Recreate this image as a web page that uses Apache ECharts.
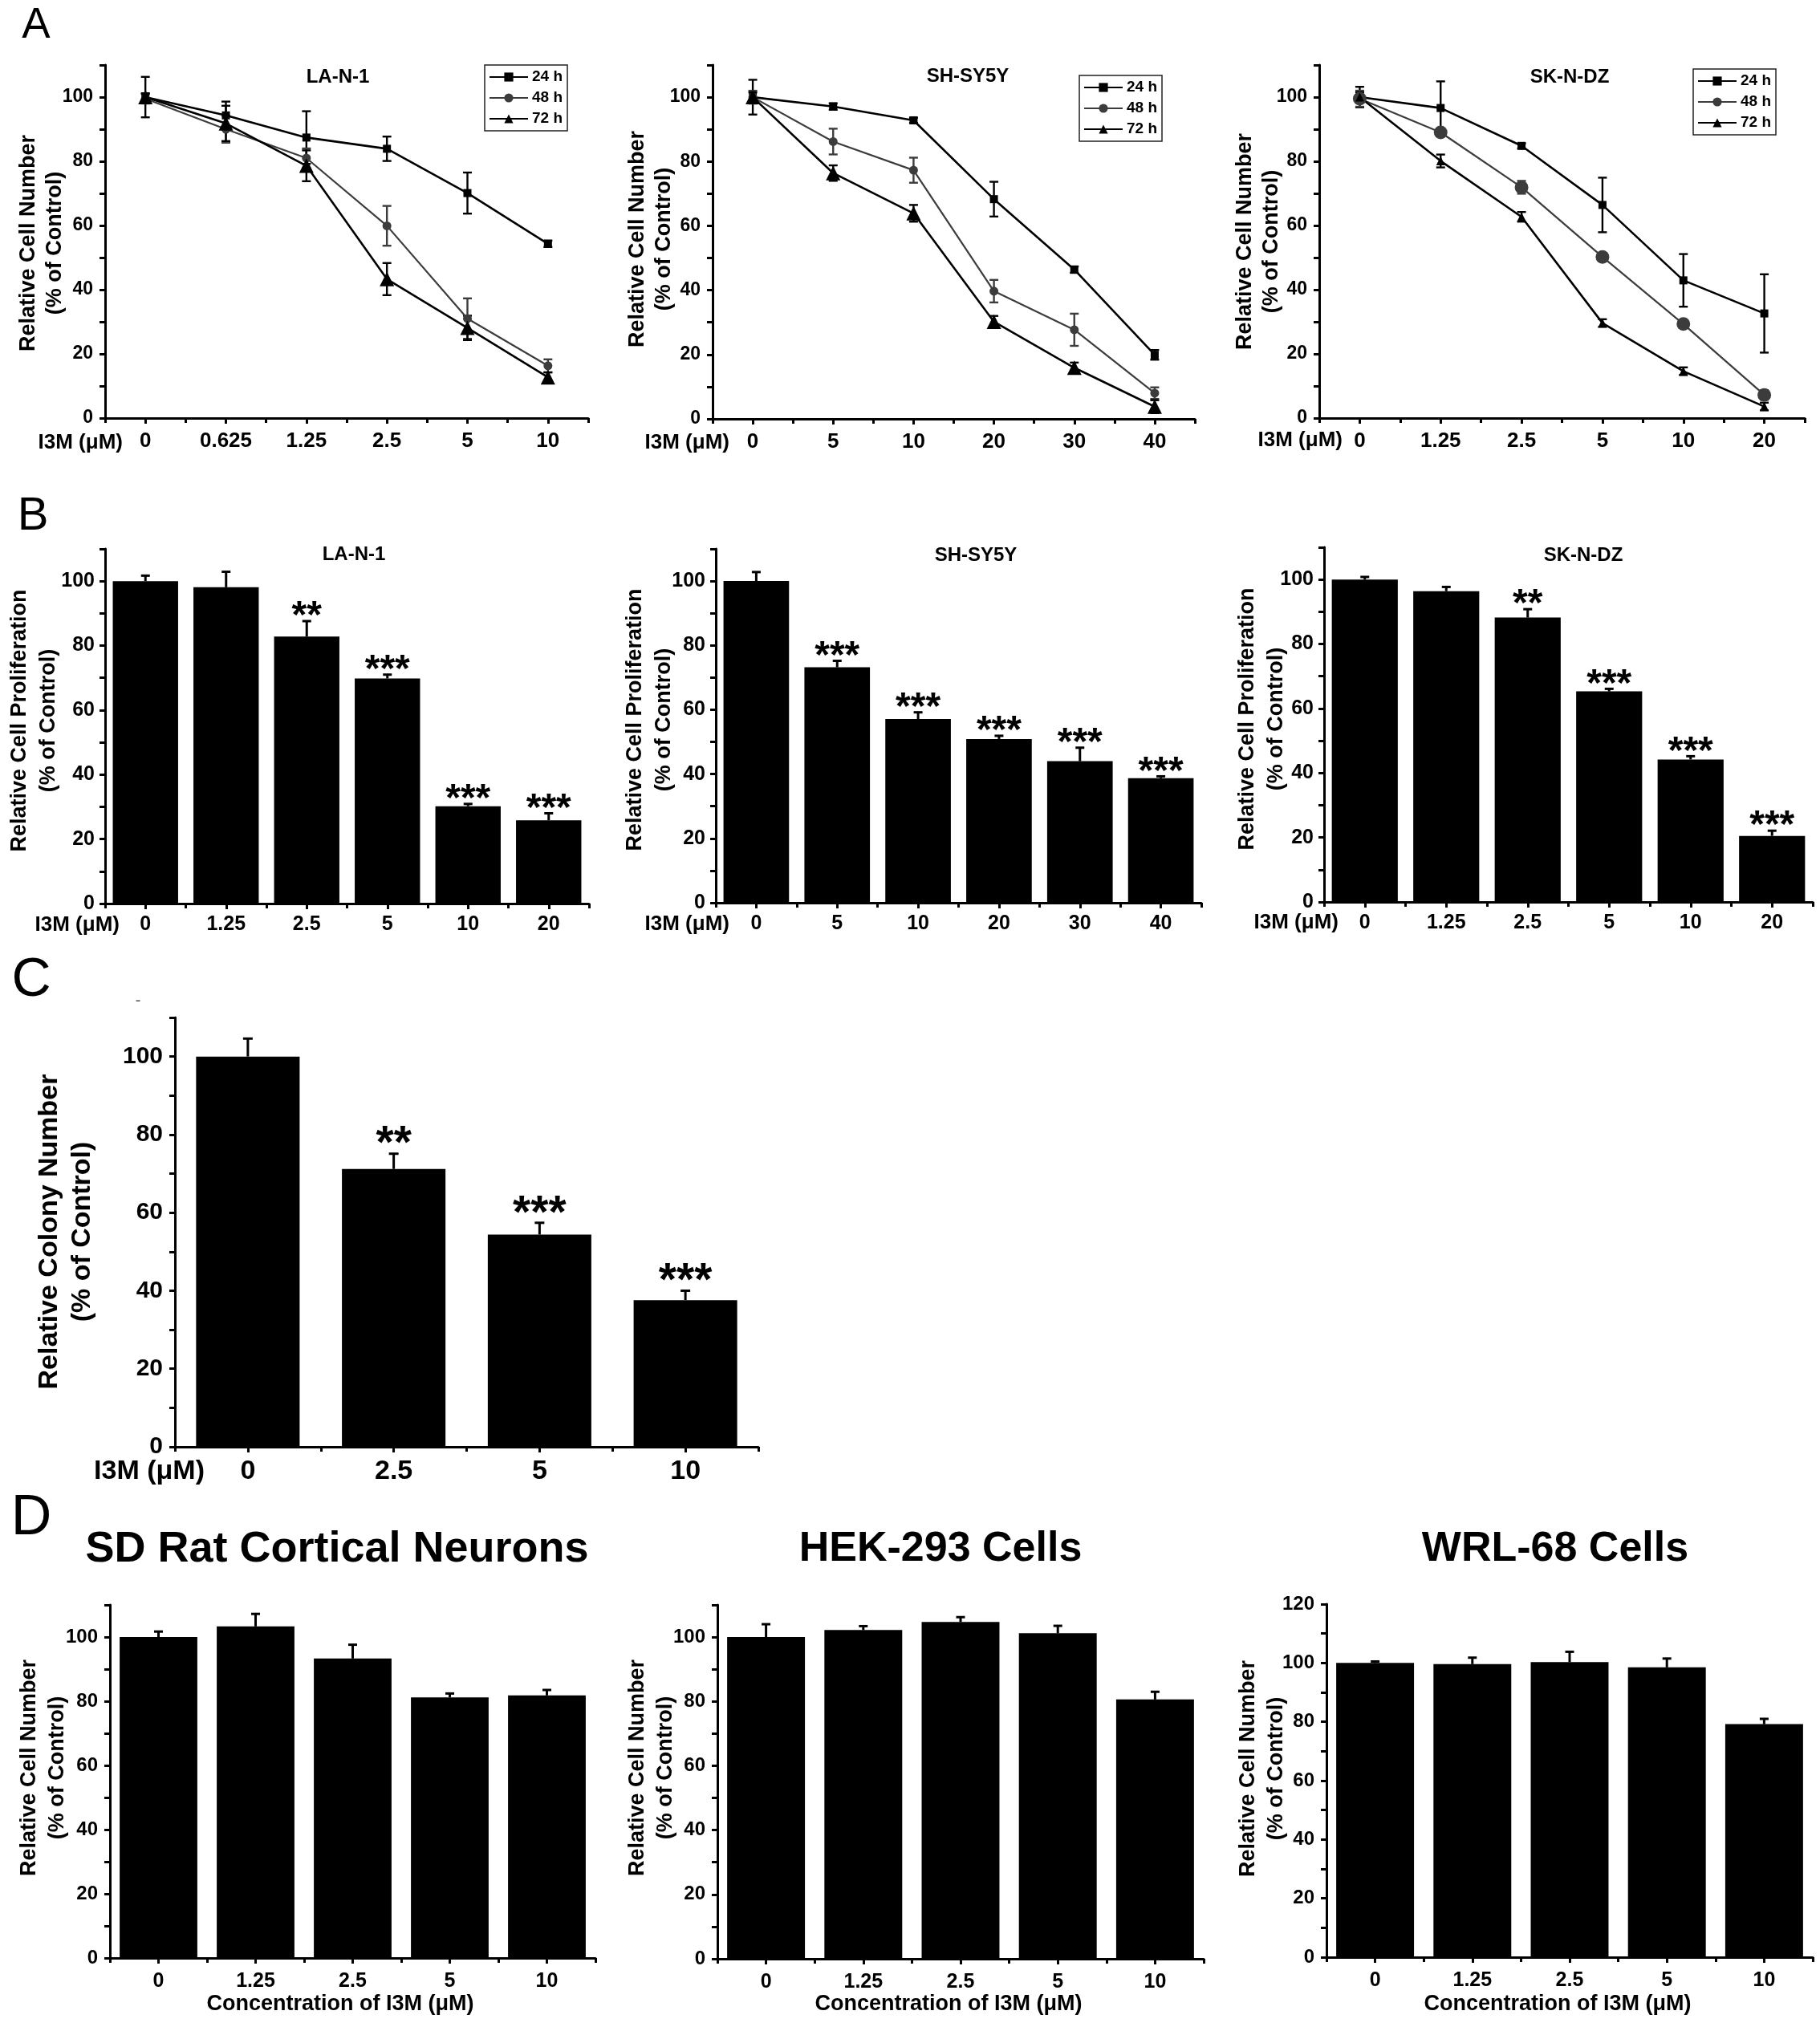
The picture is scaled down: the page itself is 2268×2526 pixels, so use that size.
<!DOCTYPE html>
<html><head><meta charset="utf-8">
<script src="https://cdn.jsdelivr.net/npm/echarts@6/dist/echarts.min.js"></script>
<style>html,body{margin:0;padding:0;background:#fff}#c{width:2268px;height:2526px}</style>
</head><body><div id="c"></div>
<script>
const FONT = '"Liberation Sans", Arial, Helvetica, sans-serif';

// ---------- Panel A : time course ----------
const timeNames = ['24 h', '48 h', '72 h'];
const catsA1 = ['0', '0.625', '1.25', '2.5', '5', '10'];
const catsA2 = ['0', '5', '10', '20', '30', '40'];
const catsA3 = ['0', '1.25', '2.5', '5', '10', '20'];

const a1_24 = [100, 94.3, 87.4, 83.9, 70.1, 54.3];
const a1_24err = [6.3, 4.3, 8.2, 3.8, 6.4, 1.0];
const a1_48 = [99.5, 90.0, 81.0, 59.9, 31.0, 16.3];
const a1_48err = [1.5, 4.2, 3.0, 6.2, 6.3, 2.0];
const a1_72 = [100, 91.8, 78.6, 43.3, 28.1, 12.7];
const a1_72err = [1.2, 5.5, 4.8, 5.0, 3.8, 1.5];

const a2_24 = [100, 97.1, 92.8, 68.3, 46.4, 19.9];
const a2_24err = [5.4, 1.0, 0.8, 5.4, 1.0, 1.5];
const a2_48 = [100, 86.2, 77.3, 39.7, 27.7, 8.0];
const a2_48err = [2.0, 4.0, 3.9, 3.5, 5.0, 1.8];
const a2_72 = [100, 76.4, 63.9, 30.2, 15.9, 3.8];
const a2_72err = [1.5, 2.4, 2.6, 1.8, 1.6, 2.0];

const a3_24 = [100, 96.6, 84.8, 66.4, 42.9, 32.6];
const a3_24err = [3.2, 8.3, 0.8, 8.5, 8.2, 12.2];
const a3_48 = [99.5, 89.0, 71.9, 50.2, 29.3, 7.2];
const a3_48err = [2.5, 1.2, 2.0, 1.2, 1.0, 1.5];
const a3_72 = [100, 80.1, 62.7, 29.6, 14.6, 3.6];
const a3_72err = [1.5, 2.0, 1.5, 1.2, 1.2, 1.2];

// ---------- Panel B : proliferation ----------
const catsB1 = ['0', '1.25', '2.5', '5', '10', '20'];
const b1Vals = [100, 98.1, 82.8, 69.8, 30.2, 25.8];
const b1Err = [1.7, 4.8, 4.8, 1.2, 0.7, 2.2];
const b1Stars = ['', '', '**', '***', '***', '***'];

const catsB2 = ['0', '5', '10', '20', '30', '40'];
const b2Vals = [100, 73.2, 57.1, 50.9, 44.0, 38.7];
const b2Err = [2.8, 2.0, 2.1, 1.0, 4.2, 0.6];
const b2Stars = ['', '***', '***', '***', '***', '***'];

const catsB3 = ['0', '1.25', '2.5', '5', '10', '20'];
const b3Vals = [100, 96.4, 88.2, 65.3, 44.2, 20.5];
const b3Err = [0.8, 1.3, 2.6, 0.8, 1.0, 1.6];
const b3Stars = ['', '', '**', '***', '***', '***'];

// ---------- Panel C : colony ----------
const catsC = ['0', '2.5', '5', '10'];
const cVals = [100, 71.2, 54.4, 37.6];
const cErr = [4.6, 3.9, 3.0, 2.4];
const cStars = ['', '**', '***', '***'];

// ---------- Panel D : normal cells ----------
const catsD = ['0', '1.25', '2.5', '5', '10'];
const d1Vals = [100, 103.3, 93.3, 81.2, 81.8];
const d1Err = [1.7, 3.9, 4.3, 1.2, 1.7];
const d2Vals = [100, 102.2, 104.7, 101.2, 80.6];
const d2Err = [4.0, 1.2, 1.5, 2.3, 2.4];
const d3Vals = [100, 99.6, 100.3, 98.5, 79.2];
const d3Err = [0.5, 2.2, 3.5, 3.0, 1.8];

// ======================================================
const option = {
  animation: false, backgroundColor: '#fff',
  grid: [], xAxis: [], yAxis: [], series: [], legend: [],
  graphic: { elements: [] }
};

function addGrid(p) {
  const gi = option.grid.length;
  option.grid.push({ left: p.left, top: p.top, width: p.width, height: p.height, containLabel: false, outerBoundsMode: 'none' });
  const xi = option.xAxis.length;
  option.xAxis.push({
    type: 'category', gridIndex: gi, data: p.cats, position: 'bottom', boundaryGap: true,
    axisLine: { show: true, onZero: false, lineStyle: { color: '#000', width: 3 } },
    axisTick: { show: true, alignWithLabel: true, interval: 0, length: 7, lineStyle: { color: '#000', width: 3 } },
    axisLabel: { show: true, interval: 0, color: '#000', fontFamily: FONT, fontWeight: 'bold', fontSize: p.xFont, margin: p.xMargin },
    splitLine: { show: false }
  });
  option.xAxis.push({
    type: 'category', gridIndex: gi, data: p.cats, position: 'bottom', boundaryGap: true,
    axisLine: { show: false, onZero: false },
    axisTick: { show: true, alignWithLabel: false, interval: 0, length: 6, lineStyle: { color: '#000', width: 3 } },
    axisLabel: { show: false }, splitLine: { show: false }
  });
  const yi = option.yAxis.length;
  const labelMax = p.labelMax;
  option.yAxis.push({
    type: 'value', gridIndex: gi, min: 0, max: p.ymax, interval: 10,
    axisLine: { show: true, onZero: false, lineStyle: { color: '#000', width: 3 } },
    axisTick: { show: true, length: 7, lineStyle: { color: '#000', width: 3 } },
    axisLabel: { show: true, color: '#000', fontFamily: FONT, fontWeight: 'bold', fontSize: p.yFont, margin: p.yMargin,
      showMaxLabel: true, showMinLabel: true,
      formatter: v => (v % 20 === 0 && v <= labelMax) ? String(v) : '' },
    splitLine: { show: false }
  });
  return { gi, xi, yi };
}

function addErr(ax, vals, errs, color, both, cap, lw, z) {
  option.series.push({
    type: 'custom', xAxisIndex: ax.xi, yAxisIndex: ax.yi, z: z, silent: true,
    data: vals.map((v, i) => [i, v, errs[i]]),
    encode: { x: 0, y: 1 },
    renderItem: (params, api) => {
      const i = api.value(0), v = api.value(1), e = api.value(2);
      const t = api.coord([i, v + e]);
      const b = api.coord([i, both ? v - e : v]);
      const st = { stroke: color, lineWidth: lw };
      const ch = [
        { type: 'line', shape: { x1: t[0], y1: t[1], x2: b[0], y2: b[1] }, style: st },
        { type: 'line', shape: { x1: t[0] - cap, y1: t[1], x2: t[0] + cap, y2: t[1] }, style: st }
      ];
      if (both) ch.push({ type: 'line', shape: { x1: b[0] - cap, y1: b[1], x2: b[0] + cap, y2: b[1] }, style: st });
      return { type: 'group', children: ch };
    }
  });
}

function addStars(ax, vals, errs, stars, size, off) {
  option.series.push({
    type: 'custom', xAxisIndex: ax.xi, yAxisIndex: ax.yi, z: 5, silent: true,
    data: vals.map((v, i) => [i, v + errs[i]]),
    encode: { x: 0, y: 1 },
    renderItem: (params, api) => {
      const p = api.coord([api.value(0), api.value(1)]);
      return { type: 'text', x: p[0], y: p[1] - off,
        style: { text: stars[params.dataIndex], fill: '#000', fontSize: size, fontWeight: 'bold', fontFamily: FONT,
          align: 'center', textAlign: 'center', verticalAlign: 'middle', textVerticalAlign: 'middle' } };
    }
  });
}

function txt(x, y, text, size, o) {
  o = o || {};
  option.graphic.elements.push({
    type: 'text', x: x, y: y, rotation: o.rot || 0, silent: true, z: 10,
    style: { text: text, fill: o.fill || '#000', fontSize: size, fontWeight: o.weight || 'bold', fontFamily: FONT,
      lineHeight: o.lh || undefined,
      align: o.align || 'center', textAlign: o.align || 'center', verticalAlign: 'middle', textVerticalAlign: 'middle' }
  });
}

// ---------- Line panels (A) ----------
function linePanel(tag, p, cats, sets, legendPos, sym) {
  const ax = addGrid(Object.assign({ cats: cats, ymax: 110, labelMax: 100, yFont: 23, xFont: 26, xMargin: 16, yMargin: 15 }, p));
  const colors = ['#000', '#3c3c3c', '#000'];
  const symbols = ['rect', 'circle', 'triangle'];
  const lws = [2.6, 2.2, 2.6];
  const names = [];
  sets.forEach((s, k) => {
    addErr(ax, s[0], s[1], colors[k], true, 5.5, 2.4, 1);
  });
  sets.forEach((s, k) => {
    const name = tag + '|' + timeNames[k];
    names.push(name);
    option.series.push({
      type: 'line', name: name, xAxisIndex: ax.xi, yAxisIndex: ax.yi, data: s[0], z: 3, silent: true,
      symbol: symbols[k], symbolSize: sym[k], showSymbol: true,
      itemStyle: { color: colors[k] }, lineStyle: { color: colors[k], width: lws[k] }
    });
  });
  option.legend.push({
    left: legendPos[0], top: legendPos[1], orient: 'vertical', data: names, selectedMode: false,
    formatter: n => n.split('|')[1], itemWidth: 48, itemHeight: 14, itemGap: 4,
    padding: [4, 6, 4, 5], borderColor: '#222', borderWidth: 1.5, backgroundColor: '#fff',
    textStyle: { color: '#000', fontFamily: FONT, fontWeight: 'bold', fontSize: 19, lineHeight: 22 }
  });
}

linePanel('A1', { left: 131, top: 81, width: 602, height: 440 }, catsA1,
  [[a1_24, a1_24err], [a1_48, a1_48err], [a1_72, a1_72err]], [604, 81], [10, 11, 18]);
linePanel('A2', { left: 888, top: 81, width: 601, height: 441 }, catsA2,
  [[a2_24, a2_24err], [a2_48, a2_48err], [a2_72, a2_72err]], [1345, 94], [10, 11, 18]);
linePanel('A3', { left: 1644, top: 81, width: 605, height: 440 }, catsA3,
  [[a3_24, a3_24err], [a3_48, a3_48err], [a3_72, a3_72err]], [2110, 86], [10, 17, 11]);

// ---------- Bar panels ----------
function barPanel(p, cats, vals, errs, stars, barW, cap, starSize, starOff) {
  const ax = addGrid(Object.assign({ cats: cats }, p));
  option.series.push({ type: 'bar', xAxisIndex: ax.xi, yAxisIndex: ax.yi, data: vals, barWidth: barW, z: 2, silent: true,
    itemStyle: { color: '#000' } });
  addErr(ax, vals, errs, '#000', false, cap, 3, 3);
  if (stars) addStars(ax, vals, errs, stars, starSize, starOff);
}

const bCommon = { ymax: 110, labelMax: 100, yFont: 25, xFont: 25, xMargin: 14, yMargin: 13 };
barPanel(Object.assign({ left: 131, top: 684, width: 603, height: 442 }, bCommon), catsB1, b1Vals, b1Err, b1Stars, '81%', 5.5, 48, 5);
barPanel(Object.assign({ left: 892, top: 684, width: 605, height: 441 }, bCommon), catsB2, b2Vals, b2Err, b2Stars, '81%', 5.5, 48, 5);
barPanel(Object.assign({ left: 1650, top: 682, width: 609, height: 442 }, bCommon), catsB3, b3Vals, b3Err, b3Stars, '81%', 5.5, 48, 5);

barPanel({ left: 218, top: 1268, width: 727, height: 535, ymax: 110, labelMax: 100, yFont: 30, xFont: 34, xMargin: 14, yMargin: 15 },
  catsC, cVals, cErr, cStars, '71%', 6, 57, 10);

const dCommon = { ymax: 110, labelMax: 100, yFont: 24, xFont: 25, xMargin: 17, yMargin: 15 };
barPanel(Object.assign({ left: 137, top: 2000, width: 605, height: 440 }, dCommon), catsD, d1Vals, d1Err, null, '80%', 5.5);
barPanel(Object.assign({ left: 894, top: 2000, width: 606, height: 441 }, dCommon), catsD, d2Vals, d2Err, null, '80%', 5.5);
barPanel({ left: 1653, top: 1999, width: 606, height: 440, ymax: 120, labelMax: 120, yFont: 24, xFont: 25, xMargin: 17, yMargin: 15 },
  catsD, d3Vals, d3Err, null, '80%', 5.5);

// ---------- Texts ----------
// panel letters
txt(45, 32, 'A', 53, { weight: 'normal' });
txt(41, 644, 'B', 58, { weight: 'normal' });
txt(39, 1222, 'C', 68, { weight: 'normal' });
txt(39, 1893, 'D', 70, { weight: 'normal' });
txt(172, 1247, '-', 20, { weight: 'normal', fill: '#555' });

// subplot titles
txt(421, 96, 'LA-N-1', 24);
txt(1206, 95, 'SH-SY5Y', 24);
txt(1956, 96, 'SK-N-DZ', 24);
txt(441, 691, 'LA-N-1', 24);
txt(1216, 692, 'SH-SY5Y', 24);
txt(1973, 692, 'SK-N-DZ', 24);
txt(420, 1931, 'SD Rat Cortical Neurons', 54);
txt(1172, 1931, 'HEK-293 Cells', 52);
txt(1938, 1931, 'WRL-68 Cells', 52);

// x prefix labels
txt(153, 552, 'I3M (\u03bcM)', 26, { align: 'right' });
txt(909, 552, 'I3M (\u03bcM)', 26, { align: 'right' });
txt(1673, 549, 'I3M (\u03bcM)', 26, { align: 'right' });
txt(149, 1153, 'I3M (\u03bcM)', 26, { align: 'right' });
txt(909, 1152, 'I3M (\u03bcM)', 26, { align: 'right' });
txt(1668, 1150, 'I3M (\u03bcM)', 26, { align: 'right' });
txt(255, 1834, 'I3M (\u03bcM)', 34, { align: 'right' });

// D x-axis titles
txt(424, 2498, 'Concentration of I3M (\u03bcM)', 27);
txt(1182, 2498, 'Concentration of I3M (\u03bcM)', 27);
txt(1941, 2498, 'Concentration of I3M (\u03bcM)', 27);

// y-axis titles (rotated)
const R = Math.PI / 2;
txt(52, 303, 'Relative Cell Number\n(% of Control)', 27, { rot: R, lh: 33 });
txt(811, 298, 'Relative Cell Number\n(% of Control)', 27, { rot: R, lh: 33 });
txt(1568, 301, 'Relative Cell Number\n(% of Control)', 27, { rot: R, lh: 33 });
txt(43, 898, 'Relative Cell Proliferation\n(% of Control)', 27, { rot: R, lh: 36 });
txt(810, 897, 'Relative Cell Proliferation\n(% of Control)', 27, { rot: R, lh: 36 });
txt(1573, 896, 'Relative Cell Proliferation\n(% of Control)', 27, { rot: R, lh: 36 });
txt(82, 1535, 'Relative Colony Number\n(% of Control)', 34, { rot: R, lh: 41 });
txt(54, 2203, 'Relative Cell Number\n(% of Control)', 27, { rot: R, lh: 35 });
txt(812, 2203, 'Relative Cell Number\n(% of Control)', 27, { rot: R, lh: 35 });
txt(1573, 2204, 'Relative Cell Number\n(% of Control)', 27, { rot: R, lh: 35 });

const chart = echarts.init(document.getElementById('c'), null, { renderer: 'canvas' });
chart.setOption(option);
</script>
</body></html>
